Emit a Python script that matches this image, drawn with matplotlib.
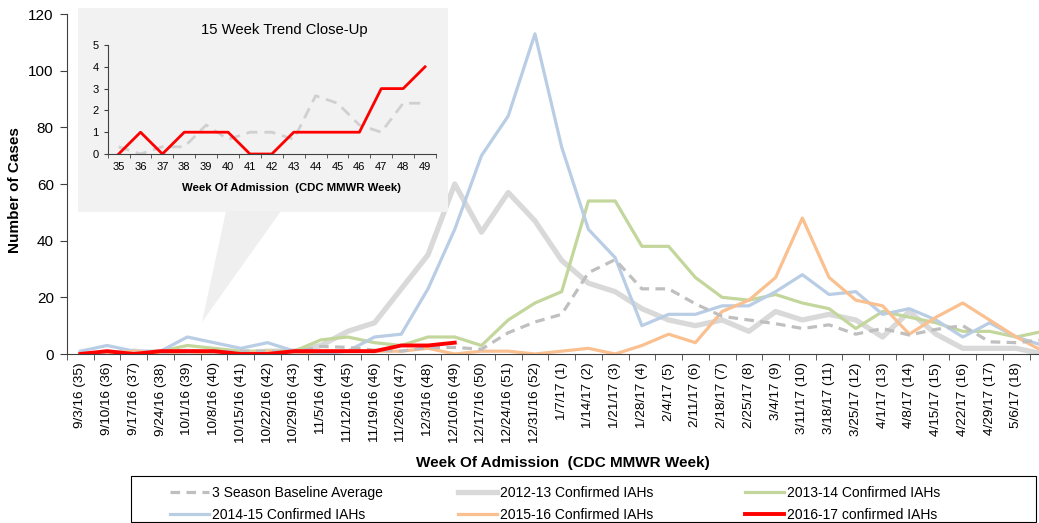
import matplotlib
matplotlib.use("Agg")
import matplotlib.pyplot as plt
from matplotlib.patches import Rectangle, Polygon

plt.rcParams['font.family'] = ['Liberation Sans', 'DejaVu Sans']

weeks = ["9/3/16 (35)", "9/10/16 (36)", "9/17/16 (37)", "9/24/16 (38)", "10/1/16 (39)",
         "10/8/16 (40)", "10/15/16 (41)", "10/22/16 (42)", "10/29/16 (43)", "11/5/16 (44)",
         "11/12/16 (45)", "11/19/16 (46)", "11/26/16 (47)", "12/3/16 (48)", "12/10/16 (49)",
         "12/17/16 (50)", "12/24/16 (51)", "12/31/16 (52)", "1/7/17 (1)", "1/14/17 (2)",
         "1/21/17 (3)", "1/28/17 (4)", "2/4/17 (5)", "2/11/17 (6)", "2/18/17 (7)",
         "2/25/17 (8)", "3/4/17 (9)", "3/11/17 (10)", "3/18/17 (11)", "3/25/17 (12)",
         "4/1/17 (13)", "4/8/17 (14)", "4/15/17 (15)", "4/22/17 (16)", "4/29/17 (17)",
         "5/6/17 (18)", "5/13/17 (19)"]

baseline = [0.33, 0, 0.33, 0.33, 1.33, 0.67, 1, 1, 0.67, 2.67, 2.33, 1.33, 1, 2.33, 2.33,
            1.67, 7.5, 11.3, 14, 28.7, 33.3, 23, 23, 17.7, 13.3, 12, 10.7, 9, 10.3, 7,
            9, 6.7, 8.7, 10, 4.3, 4, 5]
s2012 = [0, 0, 1, 0, 1, 0, 0, 1, 1, 3, 8, 11, 23, 35, 60, 43, 57, 47, 33, 25, 22, 16, 12,
         10, 12, 8, 15, 12, 14, 12, 6, 15, 7, 2, 2, 2, 0]
s2013 = [0, 0, 0, 1, 3, 2, 1, 1, 1, 5, 6, 4, 3, 6, 6, 3, 12, 18, 22, 54, 54, 38, 38, 27,
         20, 19, 21, 18, 16, 9, 15, 13, 11, 8, 8, 6, 8]
s2014 = [1, 3, 1, 1, 6, 4, 2, 4, 1, 0, 1, 6, 7, 23, 44, 70, 84, 113, 73, 44, 34, 10, 14,
         14, 17, 17, 22, 28, 21, 22, 14, 16, 12, 6, 11, 6, 3]
s2015 = [0, 0, 1, 0, 1, 0, 0, 1, 0, 1, 1, 1, 1, 2, 0, 1, 1, 0, 1, 2, 0, 3, 7, 4, 15, 19,
         27, 48, 27, 19, 17, 7, 13, 18, 12, 6, 1]
s2016 = [0, 1, 0, 1, 1, 1, 0, 0, 1, 1, 1, 1, 3, 3, 4]

inset_weeks = [35, 36, 37, 38, 39, 40, 41, 42, 43, 44, 45, 46, 47, 48, 49]

C_BASE = '#bfbfbf'
C_2012 = '#d9d9d9'
C_2013 = '#c3d69b'
C_2014 = '#b9cde5'
C_2015 = '#fac090'
C_2016 = '#ff0000'

W, H = 1039, 523
fig = plt.figure(figsize=(W / 100, H / 100), dpi=100)

def fx(px):
    return px / W

def fy(py):
    return 1 - py / H

ax = fig.add_axes([fx(67), fy(354), fx(1039) - fx(67), fy(14) - fy(354)])
x = list(range(len(weeks)))
h_base, = ax.plot(x, baseline, color=C_BASE, lw=2.3, ls=(0, (3, 2)), zorder=3)
h12, = ax.plot(x, s2012, color=C_2012, lw=3.8, zorder=2)
h13, = ax.plot(x, s2013, color=C_2013, lw=2.3, zorder=2)
h14, = ax.plot(x, s2014, color=C_2014, lw=2.3, zorder=2)
h15, = ax.plot(x, s2015, color=C_2015, lw=2.3, zorder=2)
h16, = ax.plot(x[:len(s2016)], s2016, color=C_2016, lw=2.8, zorder=4)

ax.set_xlim(-0.45, 35.85)
ax.set_ylim(0, 120)
ax.set_yticks(range(0, 121, 20))
ax.set_xticks(x[:36])
ax.set_xticklabels(weeks[:36], rotation=90, fontsize=9.7)
ax.set_xticks([i + 0.5 for i in range(-1, 36)], minor=True)
ax.tick_params(axis='x', which='major', length=0, pad=6)
ax.tick_params(axis='x', which='minor', length=4, direction='out', color='#404040')
ax.tick_params(axis='y', length=5, labelsize=11, pad=4.5, color='#404040')
for s in ['top', 'right']:
    ax.spines[s].set_visible(False)
for s in ['left', 'bottom']:
    ax.spines[s].set_color('#404040')
ax.set_facecolor('none')

fig.text(fx(15), fy(190), 'Number of Cases', rotation=90, ha='center', va='center',
         fontsize=11, fontweight='bold')
fig.text(fx(563), fy(463), 'Week Of Admission  (CDC MMWR Week)', ha='center', va='center',
         fontsize=11, fontweight='bold')

# callout box
box = Rectangle((fx(78), fy(212)), fx(448) - fx(78), fy(8) - fy(212), transform=fig.transFigure,
                facecolor='#f2f2f2', edgecolor='none', zorder=2)
fig.patches.append(box)
tri = Polygon([(fx(226), fy(211)), (fx(281), fy(211)), (fx(202), fy(322))], closed=True,
              transform=fig.transFigure, facecolor='#efefef', edgecolor='none', zorder=2)
fig.patches.append(tri)

iax = fig.add_axes([fx(107.7), fy(154), fx(436) - fx(107.7), fy(45) - fy(154)], zorder=5)
iax.set_facecolor('none')
iax.plot(inset_weeks, baseline[:15], color='#d0d0d0', lw=2.0, ls=(0, (4, 2.5)))
iax.plot(inset_weeks, s2016, color=C_2016, lw=2.0)
iax.set_xlim(34.5, 49.5)
iax.set_ylim(0, 5)
iax.set_yticks(range(0, 6))
iax.set_xticks(inset_weeks)
iax.set_xticks([w + 0.5 for w in range(34, 50)], minor=True)
iax.tick_params(axis='x', which='major', length=0, labelsize=8, pad=6)
iax.tick_params(axis='x', which='minor', length=3, color='#404040')
iax.tick_params(axis='y', length=3, labelsize=8, color='#404040')
for s in ['top', 'right']:
    iax.spines[s].set_visible(False)
for s in ['left', 'bottom']:
    iax.spines[s].set_color('#404040')
fig.text(fx(284), fy(30), '15 Week Trend Close-Up', ha='center', va='center', fontsize=10.7, zorder=6)
fig.text(fx(292), fy(188), 'Week Of Admission  (CDC MMWR Week)', ha='center', va='center',
         fontsize=8.2, fontweight='bold', zorder=6)

# legend: frame + three columns (row-major order as in the reference)
frame = Rectangle((fx(131), fy(522)), fx(1036) - fx(131), fy(476) - fy(522), transform=fig.transFigure,
                  facecolor='white', edgecolor='black', lw=0.8, zorder=3)
fig.patches.append(frame)
columns = [
    ([h_base, h14], ['3 Season Baseline Average', '2014-15 Confirmed IAHs'], 170),
    ([h12, h15], ['2012-13 Confirmed IAHs', '2015-16 Confirmed IAHs'], 458),
    ([h13, h16], ['2013-14 Confirmed IAHs', '2016-17 confirmed IAHs'], 745),
]
for hs, ls_, xpx in columns:
    lg = fig.legend(hs, ls_, loc='upper left', bbox_to_anchor=(fx(xpx), fy(486)),
                    fontsize=10, frameon=False, borderpad=0, borderaxespad=0,
                    handlelength=2.8, handletextpad=0.2, labelspacing=0.55)
    lg.set_zorder(4)

fig.savefig('out.png', dpi=100)
